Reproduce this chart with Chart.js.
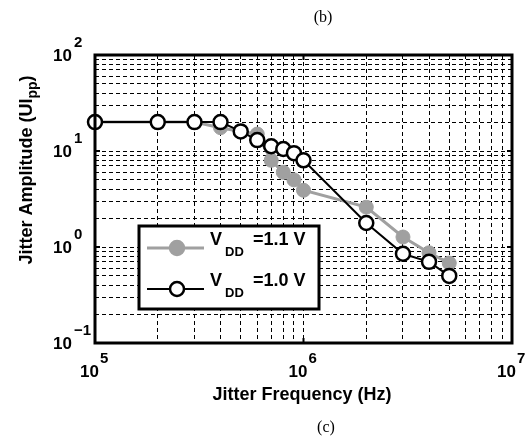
<!DOCTYPE html>
<html>
<head>
<meta charset="utf-8">
<script src="https://cdn.jsdelivr.net/npm/chart.js@4/dist/chart.umd.min.js"></script>
<style>
  html, body { margin: 0; padding: 0; background: #fff; }
  #wrap { width: 531px; height: 439px; }
</style>
</head>
<body>
<div id="wrap"><canvas id="c" width="531" height="439"></canvas></div>
<script>
// jitter tolerance data
const freqs  = [1e5, 2e5, 3e5, 4e5, 5e5, 6e5, 7e5, 8e5, 9e5, 1e6, 2e6, 3e6, 4e6, 5e6];
const vdd11  = [20, 20, 20, 17.5, 16, 15, 8, 6, 5, 3.9, 2.6, 1.27, 0.87, 0.68];
const vdd10  = [20, 20, 20, 20, 16, 13, 11.2, 10.5, 9.5, 8, 1.78, 0.85, 0.7, 0.5];

const seriesNames = ['=1.1 V', '=1.0 V'];

// grid ticks (every 1..9 per decade) and the labelled decades
const xTicks = [1e5, 2e5, 3e5, 4e5, 5e5, 6e5, 7e5, 8e5, 9e5,
                1e6, 2e6, 3e6, 4e6, 5e6, 6e6, 7e6, 8e6, 9e6, 1e7];
const yTicks = [0.1, 0.2, 0.3, 0.4, 0.5, 0.6, 0.7, 0.8, 0.9,
                1, 2, 3, 4, 5, 6, 7, 8, 9,
                10, 20, 30, 40, 50, 60, 70, 80, 90, 100];
const xDecades = [1e5, 1e6, 1e7];
const xExps = ['5', '6', '7'];
const yDecades = [0.1, 1, 10, 100];
const yExps = ['\u22121', '0', '1', '2'];

const GRAY = '#a0a0a0';
const BOLD = 'bold 17px "Liberation Sans", Arial, sans-serif';
const SUP = 'bold 15px "Liberation Sans", Arial, sans-serif';

function pts(ys) {
  return freqs.map((f, i) => ({ x: f, y: ys[i] }));
}

// draws the box, decade labels, titles, legend and captions
const decor = {
  id: 'decor',
  afterDraw(chart) {
    const ctx = chart.ctx;
    const a = chart.chartArea;
    const xs = chart.scales.x, ys = chart.scales.y;
    ctx.save();

    // frame
    ctx.strokeStyle = '#000';
    ctx.lineWidth = 3;
    ctx.strokeRect(a.left, a.top, a.right - a.left, a.bottom - a.top);

    // small inner ticks on decades
    ctx.lineWidth = 2;
    ctx.beginPath();
    xDecades.forEach(v => {
      const px = xs.getPixelForValue(v);
      ctx.moveTo(px, a.bottom); ctx.lineTo(px, a.bottom - 5);
      ctx.moveTo(px, a.top); ctx.lineTo(px, a.top + 5);
    });
    yDecades.forEach(v => {
      const py = ys.getPixelForValue(v);
      ctx.moveTo(a.left, py); ctx.lineTo(a.left + 5, py);
      ctx.moveTo(a.right, py); ctx.lineTo(a.right - 5, py);
    });
    ctx.stroke();

    ctx.fillStyle = '#000';
    ctx.textBaseline = 'alphabetic';

    // x decade labels
    xDecades.forEach((v, i) => {
      const px = xs.getPixelForValue(v);
      ctx.font = BOLD; ctx.textAlign = 'left';
      ctx.fillText('10', px - 15, 377);
      ctx.font = SUP;
      ctx.fillText(xExps[i], px + 5, 363);
    });

    // y decade labels
    yDecades.forEach((v, i) => {
      const py = ys.getPixelForValue(v);
      ctx.font = BOLD; ctx.textAlign = 'right';
      ctx.fillText('10', 72, py + 6);
      ctx.font = SUP; ctx.textAlign = 'left';
      ctx.fillText(yExps[i], 74, py - 8);
    });

    // x title
    ctx.font = 'bold 18px "Liberation Sans", Arial, sans-serif';
    ctx.textAlign = 'center';
    ctx.fillText('Jitter Frequency (Hz)', 302, 400);

    // y title with subscript
    ctx.save();
    ctx.translate(32, 170);
    ctx.rotate(-Math.PI / 2);
    const main = 'Jitter Amplitude (UI';
    ctx.font = 'bold 18px "Liberation Sans", Arial, sans-serif';
    const w1 = ctx.measureText(main).width;
    ctx.font = 'bold 14px "Liberation Sans", Arial, sans-serif';
    const w2 = ctx.measureText('pp').width;
    ctx.font = 'bold 18px "Liberation Sans", Arial, sans-serif';
    const w3 = ctx.measureText(')').width;
    let x0 = -(w1 + w2 + w3) / 2;
    ctx.textAlign = 'left';
    ctx.fillText(main, x0, 0);
    ctx.font = 'bold 14px "Liberation Sans", Arial, sans-serif';
    ctx.fillText('pp', x0 + w1, 5);
    ctx.font = 'bold 18px "Liberation Sans", Arial, sans-serif';
    ctx.fillText(')', x0 + w1 + w2, 0);
    ctx.restore();

    // legend
    const lx = 139, ly = 226, lw = 180, lh = 83;
    ctx.fillStyle = '#fff';
    ctx.fillRect(lx, ly, lw, lh);
    ctx.lineWidth = 3;
    ctx.strokeStyle = '#000';
    ctx.strokeRect(lx, ly, lw, lh);

    const rows = [
      { y: 248, line: GRAY, lwid: 3, fill: GRAY, stroke: GRAY },
      { y: 289, line: '#000', lwid: 2, fill: '#fff', stroke: '#000' }
    ];
    rows.forEach((r, i) => {
      ctx.strokeStyle = r.line;
      ctx.lineWidth = r.lwid;
      ctx.beginPath();
      ctx.moveTo(147, r.y); ctx.lineTo(204, r.y);
      ctx.stroke();
      ctx.beginPath();
      ctx.arc(177, r.y, 7, 0, Math.PI * 2);
      ctx.fillStyle = r.fill;
      ctx.fill();
      ctx.lineWidth = 2.5;
      ctx.strokeStyle = r.stroke;
      ctx.stroke();

      ctx.fillStyle = '#000';
      ctx.textAlign = 'left';
      ctx.font = 'bold 18px "Liberation Sans", Arial, sans-serif';
      ctx.fillText('V', 210, r.y - 3);
      ctx.font = 'bold 13px "Liberation Sans", Arial, sans-serif';
      ctx.fillText('DD', 225, r.y + 8);
      ctx.font = 'bold 18px "Liberation Sans", Arial, sans-serif';
      ctx.fillText(seriesNames[i], 253, r.y - 3);
    });

    // captions
    ctx.fillStyle = '#000';
    ctx.textAlign = 'center';
    ctx.font = '16px "Liberation Serif", "Times New Roman", serif';
    ctx.fillText('(b)', 323, 22);
    ctx.fillText('(c)', 326, 432);

    ctx.restore();
  }
};

const gridOpts = { color: '#000', lineWidth: 1, drawTicks: false };
const borderOpts = { display: false, dash: [4, 3] };

new Chart(document.getElementById('c'), {
  type: 'line',
  data: {
    datasets: [
      {
        label: 'VDD=1.1 V',
        data: pts(vdd11),
        borderColor: GRAY,
        borderWidth: 3,
        pointRadius: 7,
        pointBackgroundColor: GRAY,
        pointBorderColor: GRAY,
        pointBorderWidth: 1,
        order: 2,
        clip: false
      },
      {
        label: 'VDD=1.0 V',
        data: pts(vdd10),
        borderColor: '#000',
        borderWidth: 2,
        pointRadius: 7,
        pointBackgroundColor: '#fff',
        pointBorderColor: '#000',
        pointBorderWidth: 2.5,
        order: 1,
        clip: false
      }
    ]
  },
  options: {
    responsive: false,
    animation: false,
    devicePixelRatio: 1,
    layout: { padding: { left: 95, right: 19, top: 55, bottom: 96 } },
    scales: {
      x: {
        type: 'logarithmic',
        min: 1e5, max: 1e7,
        grid: gridOpts,
        border: borderOpts,
        ticks: { display: false },
        afterBuildTicks: s => { s.ticks = xTicks.map(v => ({ value: v })); }
      },
      y: {
        type: 'logarithmic',
        min: 0.1, max: 100,
        grid: gridOpts,
        border: borderOpts,
        ticks: { display: false },
        afterBuildTicks: s => { s.ticks = yTicks.map(v => ({ value: v })); }
      }
    },
    plugins: {
      legend: { display: false },
      tooltip: { enabled: false }
    }
  },
  plugins: [decor]
});
</script>
</body>
</html>
